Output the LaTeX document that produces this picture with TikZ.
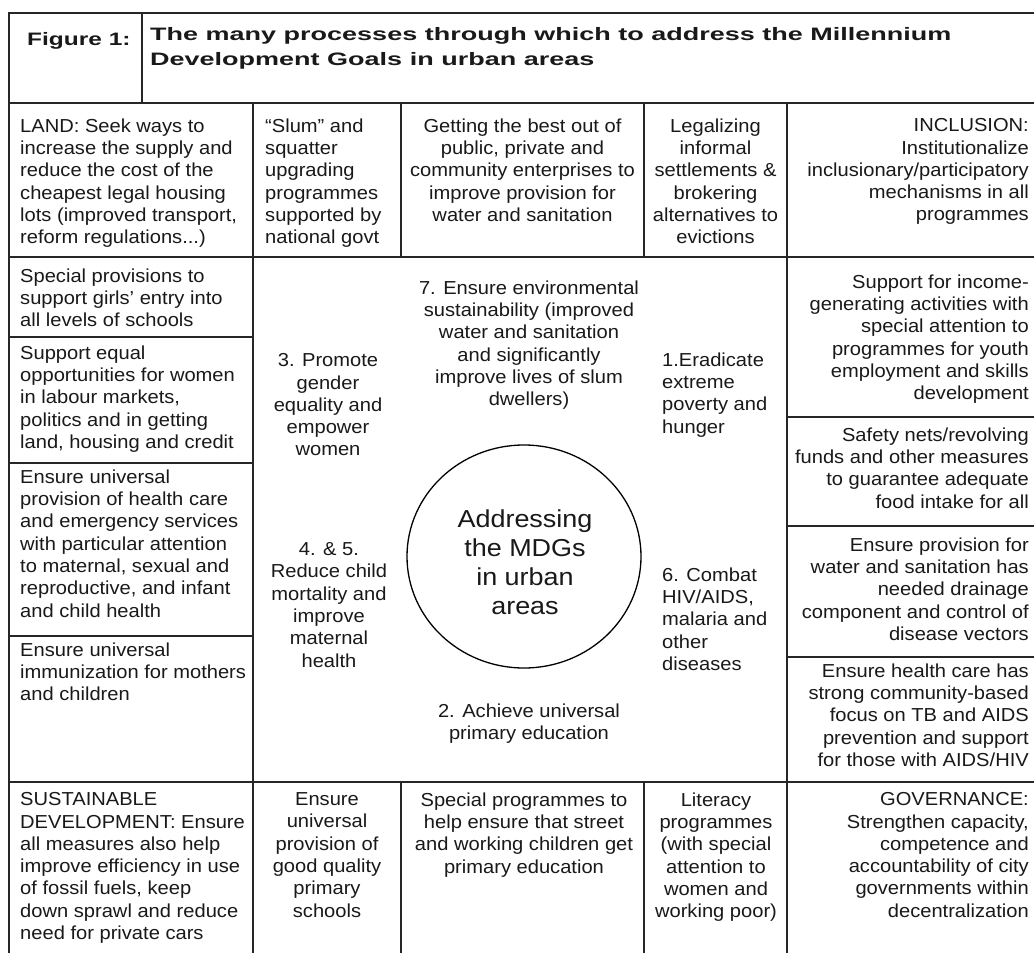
\documentclass[tikz,border=0pt]{standalone}
\usepackage{fontspec}
\usetikzlibrary{shapes.geometric}
\newfontfamily\bodyf[FakeStretch=1.07]{Liberation Sans}
\newfontfamily\circf[FakeStretch=1.1]{Liberation Sans}
\newfontfamily\titlef[FakeStretch=1.5]{Liberation Sans}
\newfontfamily\figf[FakeStretch=1.36]{Liberation Sans}
\begin{document}
\begin{tikzpicture}[x=1pt,y=-1pt,
  rule/.style={line width=1.5pt, draw=black!85},
  txt/.style={inner sep=0pt, text=black!90, font=\bodyf\fontsize{18.8}{22.3}\selectfont, execute at begin node=\strut, yshift=15.6pt},
  tl/.style={txt, anchor=north west, align=left},
  tc/.style={txt, anchor=north, align=center},
  tr/.style={txt, anchor=north east, align=right},
  ttl/.style={inner sep=0pt, text=black!90, font=\titlef\bfseries\fontsize{18}{25}\selectfont, execute at begin node=\strut, yshift=17.5pt, anchor=north west, align=left},
  figl/.style={ttl, font=\figf\bfseries\fontsize{18}{25}\selectfont},
  hubtext/.style={inner sep=0pt, text=black!90, font=\circf\fontsize{24.5}{29}\selectfont, execute at begin node=\strut, yshift=20.3pt, anchor=north, align=center}
]
\fill[white] (0,0) rectangle (1034,953);
\useasboundingbox (0,0) rectangle (1034,953);

% grid
\draw[rule] (9,953) -- (9,13) -- (1034,13);
\draw[rule] (142,13) -- (142,103);
\draw[rule] (9,103) -- (1034,103);
\draw[rule] (9,257) -- (1034,257);
\draw[rule] (9,782) -- (1034,782);
\draw[rule] (253,103) -- (253,953);
\draw[rule] (787,103) -- (787,953);
\draw[rule] (401,103) -- (401,257);
\draw[rule] (401,782) -- (401,953);
\draw[rule] (644,103) -- (644,257);
\draw[rule] (644,782) -- (644,953);
\draw[rule] (9,337) -- (253,337);
\draw[rule] (9,463) -- (253,463);
\draw[rule] (9,636) -- (253,636);
\draw[rule] (787,417) -- (1034,417);
\draw[rule] (787,526) -- (1034,526);
\draw[rule] (787,657) -- (1034,657);

% title
\node[figl] (fig) at (27,45) {Figure 1:};
\node[ttl] (title) at (150,45) {The many processes through which to address the Millennium\\Development Goals in urban areas};

% top row
\node[tl] (land) at (20,134) {LAND: Seek ways to\\increase the supply and\\reduce the cost of the\\cheapest legal housing\\lots (improved transport,\\reform regulations...)};
\node[tl] (slum) at (265,134) {“Slum” and\\squatter\\upgrading\\programmes\\supported by\\national govt};
\node[tc] (best) at (522.5,134) {Getting the best out of\\public, private and\\community enterprises to\\improve provision for\\water and sanitation};
\node[tc] (legal) at (715.5,134) {Legalizing\\informal\\settlements \&\\brokering\\alternatives to\\evictions};
\node[tr] (incl) at (1029,134) {INCLUSION:\\Institutionalize\\inclusionary/participatory\\mechanisms in all\\programmes};

% left column
\node[tl] (girls) at (20,284) {Special provisions to\\support girls’ entry into\\all levels of schools};
\node[tl] (equal) at (20,361) {Support equal\\opportunities for women\\in labour markets,\\politics and in getting\\land, housing and credit};
\node[tl] (health) at (20,485) {Ensure universal\\provision of health care\\and emergency services\\with particular attention\\to maternal, sexual and\\reproductive, and infant\\and child health};
\node[tl] (immun) at (20,658) {Ensure universal\\immunization for mothers\\and children};

% right column
\node[tr] (income) at (1029,290) {Support for income-\\generating activities with\\special attention to\\programmes for youth\\employment and skills\\development};
\node[tr] (safety) at (1029,443) {Safety nets/revolving\\funds and other measures\\to guarantee adequate\\food intake for all};
\node[tr] (drain) at (1029,553) {Ensure provision for\\water and sanitation has\\needed drainage\\component and control of\\disease vectors};
\node[tr] (tb) at (1029,679) {Ensure health care has\\strong community-based\\focus on TB and AIDS\\prevention and support\\for those with AIDS/HIV};

% centre
\node[draw, line width=1.3pt, ellipse, minimum width=234pt, minimum height=223pt, inner sep=0pt] (hub) at (524,556.5) {};
\node[hubtext] (hubt) at (525,530) {Addressing\\the MDGs\\in urban\\areas};
\node[tc] (g7) at (529,296) {7. Ensure environmental\\sustainability (improved\\water and sanitation\\and significantly\\improve lives of slum\\dwellers)};
\node[tc] (g3) at (328,369) {3. Promote\\gender\\equality and\\empower\\women};
\node[tc] (g45) at (329,558) {4. \& 5.\\Reduce child\\mortality and\\improve\\maternal\\health};
\node[tl] (g1) at (662,368) {1.Eradicate\\extreme\\poverty and\\hunger};
\node[tl] (g6) at (662,583) {6. Combat\\HIV/AIDS,\\malaria and\\other\\diseases};
\node[tc] (g2) at (529,719) {2. Achieve universal\\primary education};

% bottom row
\node[tl] (sust) at (20,808) {SUSTAINABLE\\DEVELOPMENT: Ensure\\all measures also help\\improve efficiency in use\\of fossil fuels, keep\\down sprawl and reduce\\need for private cars};
\node[tc] (school) at (327,808) {Ensure\\universal\\provision of\\good quality\\primary\\schools};
\node[tc] (street) at (524,808) {Special programmes to\\help ensure that street\\and working children get\\primary education};
\node[tc] (lit) at (716,808) {Literacy\\programmes\\(with special\\attention to\\women and\\working poor)};
\node[tr] (gov) at (1029,808) {GOVERNANCE:\\Strengthen capacity,\\competence and\\accountability of city\\governments within\\decentralization};
\end{tikzpicture}
\end{document}
